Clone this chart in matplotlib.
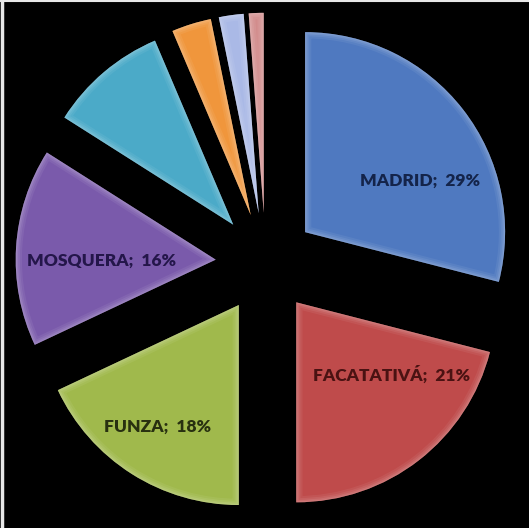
import matplotlib
matplotlib.use("Agg")
import matplotlib.pyplot as plt
from matplotlib.patches import Wedge
from matplotlib.colors import to_rgb

# municipios y participacion (%)
municipios = ["MADRID", "FACATATIVÁ", "FUNZA", "MOSQUERA", "", "", "", ""]
porcentajes = [29, 21, 18, 16, 9.6, 3.2, 2.0, 1.2]
colores = ["#4f79c0", "#bf4b4b", "#a0b94c", "#7a5aab",
           "#4baac8", "#f0963c", "#aab9e6", "#d28c8c"]
color_texto = ["#14244a", "#4a1212", "#283010", "#24164a"]

# posicion de cada etiqueta (coordenadas de datos, radio = 1)
pos_etiquetas = [(0.77, 0.41), (0.63, -0.56), (-0.54, -0.82), (-0.82, 0.01)]


def aclarar(c, f):
    r, g, b = to_rgb(c)
    return (r + (1 - r) * f, g + (1 - g) * f, b + (1 - b) * f)


fig = plt.figure(figsize=(5.29, 5.28), dpi=100, facecolor="black")
ax = fig.add_axes([0, 0, 1, 1])
ax.set_facecolor("black")

wedges, _ = ax.pie(porcentajes, colors=colores, startangle=90, counterclock=False,
                   explode=[0.25] * len(porcentajes), radius=1.0,
                   wedgeprops=dict(linewidth=0))

# biselado suave: varios trazos claros recortados a cada porcion
for w, c in zip(wedges, colores):
    for lw, a in [(9, 0.12), (6, 0.15), (3.5, 0.2), (1.5, 0.25)]:
        luz = Wedge(w.center, w.r, w.theta1, w.theta2, facecolor="none",
                    edgecolor=aclarar(c, 0.5), linewidth=lw, alpha=a)
        luz.set_clip_path(w)
        ax.add_patch(luz)

for i, (x, y) in enumerate(pos_etiquetas):
    ax.text(x, y, "%s;  %d%%" % (municipios[i], porcentajes[i]),
            ha="center", va="center", fontsize=12.5, fontweight="heavy",
            family="Lato", color=color_texto[i])

ax.set_xlim(-1.328, 1.317)
ax.set_ylim(-1.326, 1.314)
ax.set_aspect("auto")
ax.axis("off")

# marco claro fino arriba y a la izquierda
fig.add_artist(plt.Line2D([0, 1], [0.998, 0.998], transform=fig.transFigure,
                          color="#e8e8e8", linewidth=1.5))
fig.add_artist(plt.Line2D([0.003, 0.003], [0, 1], transform=fig.transFigure,
                          color="#e8e8e8", linewidth=2.5))

fig.savefig("out.png", dpi=100, facecolor="black")
